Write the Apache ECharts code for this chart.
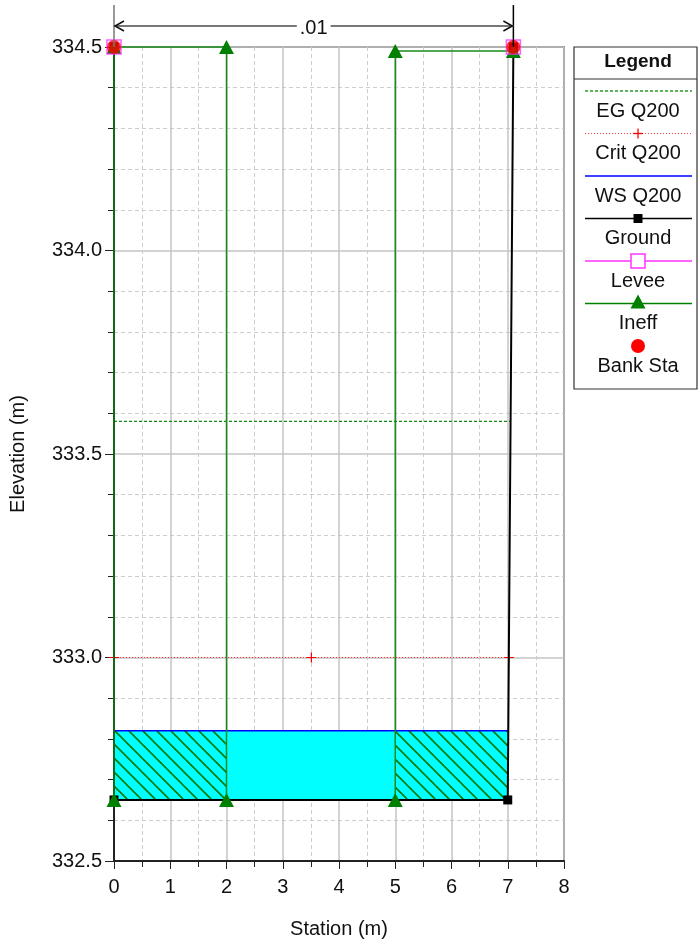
<!DOCTYPE html>
<html>
<head>
<meta charset="utf-8">
<title>Cross Section .01</title>
<script src="https://cdn.jsdelivr.net/npm/echarts@6/dist/echarts.min.js"></script>
<style>
  html, body { margin: 0; padding: 0; background: #fff; }
  #chart { width: 700px; height: 944px; }
</style>
</head>
<body>
<div id="chart"></div>
<script>
// ---- Cross section geometry (station m, elevation m) ----
const groundSta  = [0, 0, 7.0, 7.1];
const groundElev = [334.5, 332.65, 332.65, 334.5];

const bankSta  = [0, 7.1];
const bankElev = [334.5, 334.5];

const leveeSta  = [0, 7.1];
const leveeElev = [334.5, 334.5];

// ineffective flow areas: left and right blocks
const ineffLeftSta   = [0, 0, 2, 2];
const ineffLeftElev  = [332.65, 334.5, 334.5, 332.65];
const ineffRightSta  = [5, 5, 7.1];
const ineffRightElev = [332.65, 334.49, 334.49];

// profile Q200
const wsElev   = 332.82;
const critElev = 333.0;
const egElev   = 333.58;

// axis ticks
const stationTicks   = [0, 1, 2, 3, 4, 5, 6, 7, 8];
const elevationTicks = [332.5, 333.0, 333.5, 334.0, 334.5];

const sectionTitle = '.01';

const FONT = '"Liberation Sans", Arial, Helvetica, sans-serif';

// station where a water surface meets the right bank of the ground line
function rightBankStation(elev) {
  for (let i = groundSta.length - 1; i > 0; i--) {
    const y0 = groundElev[i - 1], y1 = groundElev[i];
    if ((elev - y0) * (elev - y1) <= 0 && y0 !== y1) {
      const t = (elev - y0) / (y1 - y0);
      return groundSta[i - 1] + t * (groundSta[i] - groundSta[i - 1]);
    }
  }
  return groundSta[groundSta.length - 1];
}
const leftBank = groundSta[0];
const wsRight = rightBankStation(wsElev);
const critRight = rightBankStation(critElev);
const egRight = rightBankStation(egElev);
const bedElev = groundElev[1];

const pairs = (xs, ys) => xs.map((x, i) => [x, ys[i]]);

// water polygons: whole wetted area, then the ineffective (hatched) parts
const waterPolys = [
  { hatch: false, pts: [[leftBank, wsElev], [leftBank, bedElev], [7.0, bedElev], [wsRight, wsElev]] },
  { hatch: true,  pts: [[leftBank, wsElev], [leftBank, bedElev], [2, bedElev], [2, wsElev]] },
  { hatch: true,  pts: [[5, wsElev], [5, bedElev], [7.0, bedElev], [wsRight, wsElev]] }
];

// diagonal hatch tile
function hatchTile() {
  const s = 14;
  const c = document.createElement('canvas');
  c.width = s; c.height = s;
  const g = c.getContext('2d');
  g.fillStyle = '#00ffff';
  g.fillRect(0, 0, s, s);
  g.strokeStyle = '#0a7a0a';
  g.lineWidth = 1.6;
  g.beginPath();
  g.moveTo(-2, -2); g.lineTo(s + 2, s + 2);
  g.moveTo(s - 3, -3); g.lineTo(s + 3, 3);
  g.moveTo(-3, s - 3); g.lineTo(3, s + 3);
  g.stroke();
  return c;
}
const hatchPattern = { image: hatchTile(), repeat: 'repeat' };

const plusPath = 'path://M4.4,0h1.2v10h-1.2z M0,4.4h10v1.2h-10z';

const chart = echarts.init(document.getElementById('chart'), null, { renderer: 'canvas' });

const axisCommon = {
  type: 'value',
  axisLine: { show: true, onZero: false, lineStyle: { color: '#222', width: 2 } },
  axisLabel: { fontSize: 20, color: '#111', fontFamily: FONT },
  splitLine: { show: true, lineStyle: { color: '#c4c4c4', width: 1.5 } },
  minorSplitLine: { show: true, lineStyle: { color: '#cdcdcd', width: 1, type: [4, 3] } },
  nameLocation: 'middle',
  nameTextStyle: { fontSize: 20, color: '#111', fontFamily: FONT }
};

chart.setOption({
  animation: false,
  backgroundColor: '#fff',
  grid: { left: 114, top: 47, width: 450, height: 815, show: true, borderColor: '#444', borderWidth: 1.5 },
  xAxis: Object.assign({}, axisCommon, {
    min: stationTicks[0], max: stationTicks[stationTicks.length - 1], interval: 1,
    axisTick: { show: true, length: 8, lineStyle: { color: '#222' } },
    minorTick: { show: true, splitNumber: 2, length: 6, lineStyle: { color: '#222' } },
    axisLabel: Object.assign({}, axisCommon.axisLabel, { margin: 16 }),
    name: 'Station (m)', nameGap: 58
  }),
  yAxis: Object.assign({}, axisCommon, {
    min: elevationTicks[0], max: elevationTicks[elevationTicks.length - 1], interval: 0.5,
    axisTick: { show: true, length: 9, lineStyle: { color: '#222' } },
    minorTick: { show: true, splitNumber: 5, length: 6, lineStyle: { color: '#222' } },
    axisLabel: Object.assign({}, axisCommon.axisLabel, { margin: 12, formatter: v => v.toFixed(1) }),
    name: 'Elevation (m)', nameGap: 86
  }),
  series: [
    {
      name: 'Water',
      type: 'custom',
      z: 1,
      clip: false,
      data: waterPolys.map((p, i) => [i]),
      renderItem: function (params, api) {
        const poly = waterPolys[params.dataIndex];
        return {
          type: 'polygon',
          shape: { points: poly.pts.map(p => api.coord(p)) },
          style: { fill: poly.hatch ? hatchPattern : '#00ffff', stroke: null }
        };
      }
    },
    {
      name: 'EG Q200', type: 'line', z: 3, clip: false, symbol: 'none',
      data: [[leftBank, egElev], [egRight, egElev]],
      lineStyle: { color: '#108a10', width: 1.2, type: [3, 2] }
    },
    {
      name: 'Crit Q200', type: 'line', z: 3, clip: false,
      symbol: plusPath, symbolSize: 10,
      data: [[leftBank, critElev], [(leftBank + critRight) / 2, critElev], [critRight, critElev]],
      itemStyle: { color: '#ff0000' },
      lineStyle: { color: '#ff2a2a', width: 1.2, type: [1, 2] }
    },
    {
      name: 'WS Q200', type: 'line', z: 3, clip: false, symbol: 'none',
      data: [[leftBank, wsElev], [wsRight, wsElev]],
      lineStyle: { color: '#0000ff', width: 1.5 }
    },
    {
      name: 'Ground', type: 'line', z: 4, clip: false,
      symbol: 'rect', symbolSize: 9,
      data: pairs(groundSta, groundElev),
      itemStyle: { color: '#000' },
      lineStyle: { color: '#000', width: 2 }
    },
    {
      name: 'Ineff', type: 'line', z: 5, clip: false,
      symbol: 'triangle', symbolSize: [15, 14],
      data: pairs(ineffLeftSta, ineffLeftElev),
      itemStyle: { color: '#008000' },
      lineStyle: { color: '#1a8a1a', width: 1.5 }
    },
    {
      name: 'Ineff R', type: 'line', z: 5, clip: false,
      symbol: 'triangle', symbolSize: [15, 14],
      data: pairs(ineffRightSta, ineffRightElev),
      itemStyle: { color: '#008000' },
      lineStyle: { color: '#1a8a1a', width: 1.5 }
    },
    {
      name: 'Levee', type: 'scatter', z: 6, clip: false,
      symbol: 'rect', symbolSize: 14,
      data: pairs(leveeSta, leveeElev),
      itemStyle: { color: 'rgba(0,0,0,0)', borderColor: '#ff33ff', borderWidth: 1.5 }
    },
    {
      name: 'Bank Sta', type: 'scatter', z: 7, clip: false,
      symbol: 'circle', symbolSize: 14,
      data: pairs(bankSta, bankElev),
      itemStyle: { color: '#ff0000' }
    }
  ]
});

// ---- section width marker above the plot and the legend box ----
const pL = chart.convertToPixel({ gridIndex: 0 }, [bankSta[0], bankElev[0]]);
const pR = chart.convertToPixel({ gridIndex: 0 }, [bankSta[1], bankElev[1]]);
const arrowY = 26;
const graphics = [
  { type: 'line', shape: { x1: pL[0], y1: 5, x2: pL[0], y2: pL[1] }, style: { stroke: '#777', lineWidth: 1.5 }, z: 10 },
  { type: 'line', shape: { x1: pR[0], y1: 5, x2: pR[0], y2: pR[1] }, style: { stroke: '#000', lineWidth: 1.5 }, z: 10 },
  { type: 'line', shape: { x1: pL[0], y1: arrowY, x2: pR[0], y2: arrowY }, style: { stroke: '#777', lineWidth: 2 }, z: 10 },
  { type: 'polyline', shape: { points: [[pL[0] + 10, arrowY - 5], [pL[0] + 1, arrowY], [pL[0] + 10, arrowY + 5]] }, style: { stroke: '#111', lineWidth: 1.5, fill: null }, z: 11 },
  { type: 'polyline', shape: { points: [[pR[0] - 10, arrowY - 5], [pR[0] - 1, arrowY], [pR[0] - 10, arrowY + 5]] }, style: { stroke: '#111', lineWidth: 1.5, fill: null }, z: 11 },
  { type: 'text', x: (pL[0] + pR[0]) / 2, y: arrowY + 2, z: 12,
    style: { text: sectionTitle, fontSize: 20, fontFamily: FONT, fill: '#111', align: 'center', verticalAlign: 'middle',
             backgroundColor: '#fff', padding: [0, 3] } }
];

// legend entries: sample line above, label below
const legendItems = [
  { label: 'EG Q200',   line: { stroke: '#2a9a2a', lineDash: [3, 2], lineWidth: 1.5 }, mark: null },
  { label: 'Crit Q200', line: { stroke: '#ff4040', lineDash: [1, 2], lineWidth: 1.2 }, mark: 'plus' },
  { label: 'WS Q200',   line: { stroke: '#0000ff', lineWidth: 1.5 },                    mark: null },
  { label: 'Ground',    line: { stroke: '#000', lineWidth: 1.5 },                       mark: 'square' },
  { label: 'Levee',     line: { stroke: '#ff33ff', lineWidth: 1.5 },                    mark: 'hollow' },
  { label: 'Ineff',     line: { stroke: '#008000', lineWidth: 1.5 },                    mark: 'triangle' },
  { label: 'Bank Sta',  line: null,                                                     mark: 'circle' }
];
const lgX = 574, lgY = 47, lgW = 123, lgH = 342, lgCx = 638;
graphics.push(
  { type: 'rect', shape: { x: lgX, y: lgY, width: lgW, height: lgH }, style: { fill: '#fff', stroke: '#333', lineWidth: 1.2 }, z: 20 },
  { type: 'line', shape: { x1: lgX, y1: 79, x2: lgX + lgW, y2: 79 }, style: { stroke: '#333', lineWidth: 1.2 }, z: 21 },
  { type: 'text', x: lgCx, y: 62, z: 21, style: { text: 'Legend', fontSize: 19, fontWeight: 'bold', fontFamily: FONT, fill: '#111', align: 'center', verticalAlign: 'middle' } }
);
legendItems.forEach((it, i) => {
  const ly = 91 + i * 42.5;
  if (it.line) {
    graphics.push({ type: 'line', shape: { x1: 585, y1: ly, x2: 692, y2: ly }, style: Object.assign({ fill: null }, it.line), z: 21 });
  }
  if (it.mark === 'plus') {
    graphics.push({ type: 'line', shape: { x1: lgCx - 5, y1: ly, x2: lgCx + 5, y2: ly }, style: { stroke: '#ff0000', lineWidth: 1.3 }, z: 22 });
    graphics.push({ type: 'line', shape: { x1: lgCx, y1: ly - 5, x2: lgCx, y2: ly + 5 }, style: { stroke: '#ff0000', lineWidth: 1.3 }, z: 22 });
  } else if (it.mark === 'square') {
    graphics.push({ type: 'rect', shape: { x: lgCx - 4.5, y: ly - 4.5, width: 9, height: 9 }, style: { fill: '#000' }, z: 22 });
  } else if (it.mark === 'hollow') {
    graphics.push({ type: 'rect', shape: { x: lgCx - 7, y: ly - 7, width: 14, height: 14 }, style: { fill: '#fff', stroke: '#ff33ff', lineWidth: 1.5 }, z: 22 });
  } else if (it.mark === 'triangle') {
    graphics.push({ type: 'polygon', shape: { points: [[lgCx, ly - 9], [lgCx - 7.5, ly + 5], [lgCx + 7.5, ly + 5]] }, style: { fill: '#008000' }, z: 22 });
  } else if (it.mark === 'circle') {
    graphics.push({ type: 'circle', shape: { cx: lgCx, cy: ly, r: 7 }, style: { fill: '#ff0000' }, z: 22 });
  }
  graphics.push({ type: 'text', x: lgCx, y: ly + 20, z: 22,
    style: { text: it.label, fontSize: 20, fontFamily: FONT, fill: '#111', align: 'center', verticalAlign: 'middle' } });
});

chart.setOption({ graphic: graphics });
</script>
</body>
</html>
